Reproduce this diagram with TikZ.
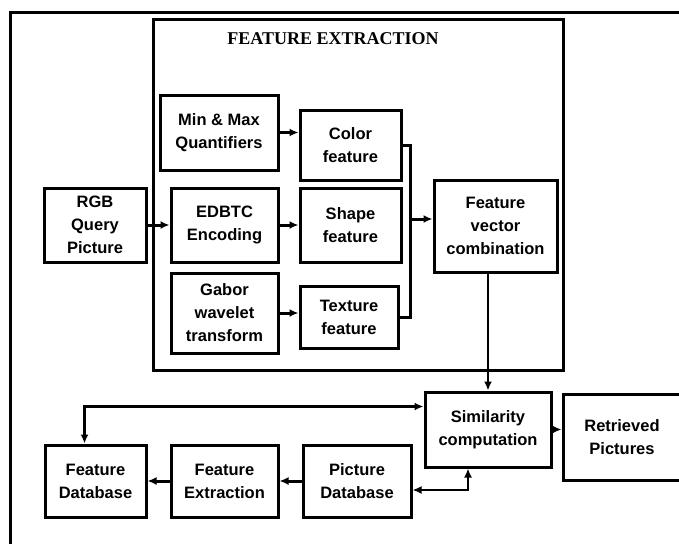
\documentclass[tikz,border=0pt]{standalone}
\usepackage{fontspec}
\setmainfont{Liberation Sans}
\newfontfamily\titlefont{Liberation Serif}
\usepackage{tikz}
\usetikzlibrary{positioning, arrows.meta}

\begin{document}
\begin{tikzpicture}[
    x=1pt, y=-1pt,
    box/.style={
        rectangle,
        draw=black,
        line width=3pt,
        align=center,
        inner sep=0pt,
        font=\fontsize{16.5}{23}\selectfont\bfseries
    },
    line/.style={
        line width=3pt
    },
    arrow/.style={
        -{Latex[length=9pt,width=8pt]},
        line width=3pt
    },
    twoway/.style={
        {Latex[length=9pt,width=8pt]}-{Latex[length=9pt,width=8pt]},
        line width=2.5pt
    }
]
\clip (0,0) rectangle (679,543);
\fill[white] (0,0) rectangle (679,543);

% outer frame
\draw[line width=3pt] (10,560) |- (700,13);

% feature extraction block
\node[box, minimum width=410pt, minimum height=350pt] (fe) at (358,195) {};
\node[anchor=base, font=\titlefont\fontsize{18}{20}\selectfont\bfseries] (title) at (333,45) {FEATURE EXTRACTION};

\node[box, minimum width=118pt, minimum height=75pt] (minmax) at (219,132.5) {Min \& Max\\Quantifiers};
\node[box, minimum width=101pt, minimum height=70pt] (color) at (350.5,145) {Color\\feature};
\node[box, minimum width=102pt, minimum height=74pt] (rgb) at (95,225) {RGB\\Query\\Picture};
\node[box, minimum width=107pt, minimum height=74pt] (edbtc) at (224.5,225) {EDBTC\\Encoding};
\node[box, minimum width=101pt, minimum height=74pt] (shape) at (350.5,225) {Shape\\feature};
\node[box, minimum width=107pt, minimum height=80pt] (gabor) at (224.5,313) {Gabor\\wavelet\\transform};
\node[box, minimum width=98pt, minimum height=62pt] (texture) at (349,317) {Texture\\feature};
\node[box, minimum width=123pt, minimum height=92pt] (fvc) at (495.5,226) {Feature\\vector\\combination};

% retrieval part
\node[box, minimum width=126pt, minimum height=75pt] (sim) at (488,429.5) {Similarity\\computation};
\node[box, minimum width=118pt, minimum height=86pt] (ret) at (622,437) {Retrieved\\Pictures};
\node[box, minimum width=101pt, minimum height=72pt] (fdb) at (95.5,481) {Feature\\Database};
\node[box, minimum width=107pt, minimum height=72pt] (fext) at (224.5,481) {Feature\\Extraction};
\node[box, minimum width=108pt, minimum height=72pt] (pdb) at (357,481) {Picture\\Database};

\coordinate (join) at (410,219);

\draw[arrow] (minmax.east) -- (minmax.east -| color.west);
\draw[arrow] (rgb.east) -- (rgb.east -| edbtc.west);
\draw[arrow] (edbtc.east) -- (edbtc.east -| shape.west);
\draw[arrow] (gabor.east) -- (gabor.east -| texture.west);
\draw[line] (color.east) -| (join) |- (texture.east);
\draw[arrow] (join) -- (join -| fvc.west);

\draw[arrow, line width=2.2pt] (sim.north |- fvc.south) -- (sim.north);
\draw[arrow] (sim.east) -- (sim.east -| ret.west);
\draw[twoway] ([xshift=-11pt]fdb.north) |- ([yshift=-16pt]sim.north west);
\draw[arrow] (fext.west) -- (fext.west -| fdb.east);
\draw[arrow] (pdb.west) -- (pdb.west -| fext.east);
\draw[twoway] ([yshift=-9pt]pdb.east) -| ([xshift=-20pt]sim.south);

\end{tikzpicture}
\end{document}
